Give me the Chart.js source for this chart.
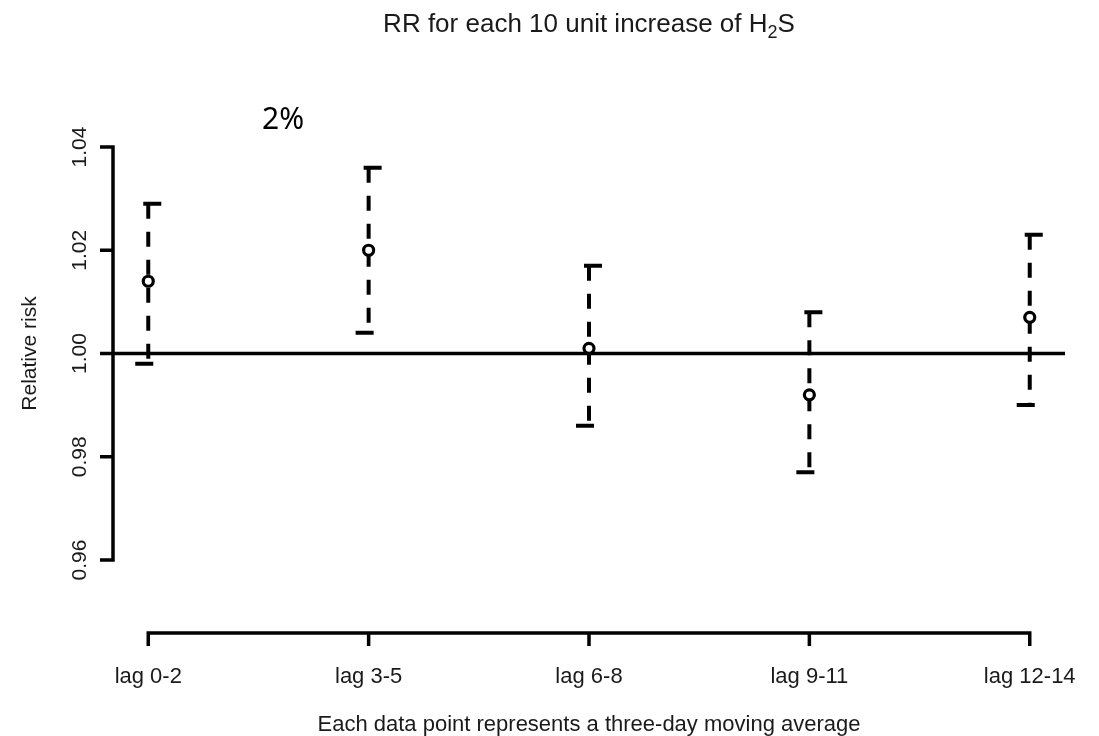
<!DOCTYPE html>
<html>
<head>
<meta charset="utf-8">
<title>RR for each 10 unit increase of H2S</title>
<script src="https://cdn.jsdelivr.net/npm/chart.js@4.4.1/dist/chart.umd.min.js"></script>
<style>
  html, body { margin: 0; padding: 0; background: #ffffff; }
  #wrap { width: 1099px; height: 736px; }
</style>
</head>
<body>
<div id="wrap"><canvas id="rrChart" width="1099" height="736"></canvas></div>
<script>
// Data
const lags = ["lag 0-2", "lag 3-5", "lag 6-8", "lag 9-11", "lag 12-14"];
const rr = [1.014, 1.020, 1.001, 0.992, 1.007];
const lower = [0.998, 1.004, 0.986, 0.977, 0.990];
const upper = [1.029, 1.036, 1.017, 1.008, 1.023];
const yTicks = [0.96, 0.98, 1.00, 1.02, 1.04];
const refValue = 1.00;

const titleText = "RR for each 10 unit increase of H";
const xTitle = "Each data point represents a three-day moving average";
const yTitle = "Relative risk";
const note = "2%";

// R-style 4% range extension
const xMin = -0.16, xMax = lags.length - 1 + 0.16;
const yPad = (yTicks[yTicks.length - 1] - yTicks[0]) * 0.04;

const FONT = "'Liberation Sans', Arial, sans-serif";
const INK = "#000000";
const TEXT = "#1a1a1a";

// cap half widths (in category units), drawn a bit lopsided like the original dashed arrows
const capShort = 5 / 220;
const capLong = 13 / 220;

const points = rr.map((v, i) => ({ x: i, y: v }));

const stems = [];
const caps = [];
lags.forEach((lab, i) => {
    stems.push({ x: i, y: upper[i] }, { x: i, y: lower[i] }, { x: i, y: null });
    caps.push({ x: i - capShort, y: upper[i] }, { x: i + capLong, y: upper[i] }, { x: i, y: null });
    caps.push({ x: i - capLong, y: lower[i] }, { x: i + capShort, y: lower[i] }, { x: i, y: null });
});

const refLine = [{ x: xMin, y: refValue }, { x: xMax, y: refValue }];

// axes, labels and titles drawn in base-R style
const rAxes = {
    id: "rAxes",
    afterDraw(chart) {
        const ctx = chart.ctx;
        const xs = chart.scales.x;
        const ys = chart.scales.y;
        const area = chart.chartArea;
        ctx.save();
        ctx.strokeStyle = INK;
        ctx.lineWidth = 3.5;
        ctx.lineCap = "butt";

        // y axis
        const ax = area.left;
        const yTop = ys.getPixelForValue(yTicks[yTicks.length - 1]);
        const yBot = ys.getPixelForValue(yTicks[0]);
        ctx.beginPath();
        ctx.moveTo(ax, yTop - 1.75);
        ctx.lineTo(ax, yBot + 1.75);
        yTicks.forEach(t => {
            const py = ys.getPixelForValue(t);
            ctx.moveTo(ax - 13, py);
            ctx.lineTo(ax + 1.75, py);
        });
        ctx.stroke();

        ctx.fillStyle = TEXT;
        ctx.font = "21px " + FONT;
        ctx.textAlign = "center";
        ctx.textBaseline = "alphabetic";
        yTicks.forEach(t => {
            const py = ys.getPixelForValue(t);
            ctx.save();
            ctx.translate(86, py);
            ctx.rotate(-Math.PI / 2);
            ctx.fillText(t.toFixed(2), 0, 0);
            ctx.restore();
        });

        // y title
        ctx.save();
        ctx.translate(36, (area.top + area.bottom) / 2);
        ctx.rotate(-Math.PI / 2);
        ctx.fillText(yTitle, 0, 0);
        ctx.restore();

        // x axis, detached below the plot
        const axY = area.bottom + 56.5;
        const x0 = xs.getPixelForValue(0);
        const x1 = xs.getPixelForValue(lags.length - 1);
        ctx.beginPath();
        ctx.moveTo(x0 - 1.75, axY);
        ctx.lineTo(x1 + 1.75, axY);
        lags.forEach((lab, i) => {
            const px = xs.getPixelForValue(i);
            ctx.moveTo(px, axY);
            ctx.lineTo(px, axY + 13);
        });
        ctx.stroke();

        ctx.font = "22px " + FONT;
        lags.forEach((lab, i) => {
            ctx.fillText(lab, xs.getPixelForValue(i), 683);
        });
        const cx = (area.left + area.right) / 2;
        ctx.fillText(xTitle, cx, 731);

        // main title with subscript
        const big = "26px " + FONT;
        const small = "18px " + FONT;
        ctx.font = big;
        const w1 = ctx.measureText(titleText).width;
        const w3 = ctx.measureText("S").width;
        ctx.font = small;
        const w2 = ctx.measureText("2").width;
        let tx = cx - (w1 + w2 + w3) / 2;
        ctx.textAlign = "left";
        ctx.font = big;
        ctx.fillText(titleText, tx, 32);
        tx += w1;
        ctx.font = small;
        ctx.fillText("2", tx, 38);
        tx += w2;
        ctx.font = big;
        ctx.fillText("S", tx, 32);

        // stray annotation
        ctx.fillStyle = INK;
        ctx.font = "30px 'Noto Sans', 'Open Sans', sans-serif";
        ctx.fillText(note, 262, 129);

        ctx.restore();
    }
};

const chart = new Chart(document.getElementById("rrChart"), {
    type: "scatter",
    data: {
        datasets: [
            {
                label: "RR",
                data: points,
                pointRadius: 5,
                pointBorderWidth: 3.2,
                pointBorderColor: INK,
                pointBackgroundColor: "#ffffff",
                showLine: false
            },
            {
                label: "caps",
                data: caps,
                showLine: true,
                borderColor: INK,
                borderWidth: 4,
                pointRadius: 0,
                spanGaps: false
            },
            {
                label: "CI",
                data: stems,
                showLine: true,
                borderColor: INK,
                borderWidth: 4,
                borderDash: [15, 13],
                borderCapStyle: "butt",
                pointRadius: 0,
                spanGaps: false
            },
            {
                label: "reference",
                data: refLine,
                showLine: true,
                borderColor: INK,
                borderWidth: 3.5,
                pointRadius: 0
            }
        ]
    },
    options: {
        responsive: false,
        animation: false,
        devicePixelRatio: 1,
        layout: { padding: { left: 113, right: 34, top: 130.5, bottom: 159.5 } },
        scales: {
            x: { type: "linear", min: xMin, max: xMax, display: false },
            y: { type: "linear", min: yTicks[0] - yPad, max: yTicks[yTicks.length - 1] + yPad, display: false }
        },
        plugins: {
            legend: { display: false },
            tooltip: { enabled: false },
            title: { display: false }
        }
    },
    plugins: [rAxes]
});
</script>
</body>
</html>
